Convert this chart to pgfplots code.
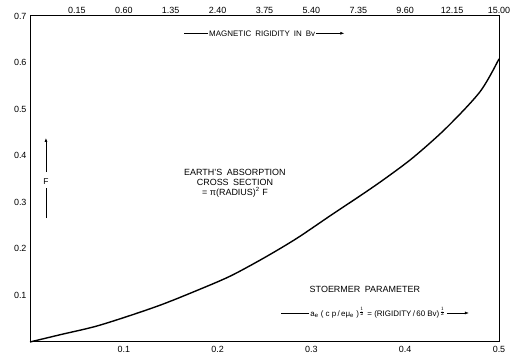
\documentclass[border=0pt]{standalone}
\usepackage{pgfplots}
\pgfplotsset{compat=1.18}
\usepackage{fontspec}
\setmainfont{Liberation Sans}
\usetikzlibrary{arrows.meta}
\begin{document}
\begin{tikzpicture}
\begin{axis}[
  scale only axis, width=469bp, height=326bp,
  xmin=0, xmax=0.5, ymin=0, ymax=0.7,
  major tick length=0pt,
  tick label style={font=\fontsize{9}{10}\selectfont},
  /pgf/number format/assume math mode=true,
  axis line style={line width=1pt, black},
  xtick={0.1,0.2,0.3,0.4,0.5},
  xticklabels={0.1,0.2,0.3,0.4,0.5},
  ytick={0.1,0.2,0.3,0.4,0.5,0.6,0.7},
  yticklabels={0.1,0.2,0.3,0.4,0.5,0.6,0.7},
  xticklabel style={yshift=-1pt},
  clip=false,
]
\addplot[line width=1.4pt, smooth, tension=0.5, black] coordinates {
 (0,0) (0.033,0.016) (0.069,0.033) (0.104,0.055) (0.14,0.08) (0.176,0.109)
 (0.213,0.141) (0.249,0.18) (0.284,0.222) (0.32,0.271) (0.355,0.318)
 (0.38,0.353) (0.409,0.397) (0.444,0.46) (0.48,0.538) (0.5,0.608)
};
% top scale: magnetic rigidity labels
\foreach \s/\r in {0.05/0.15,0.1/0.60,0.15/1.35,0.2/2.40,0.25/3.75,0.3/5.40,0.35/7.35,0.4/9.60,0.45/12.15,0.5/15.00}{
  \edef\temp{\noexpand\node[font=\noexpand\fontsize{9}{10}\noexpand\selectfont, anchor=south, inner sep=2pt] at (axis cs:\s,0.7) {\r};}
  \temp
}
% bounding room like the reference
\path (rel axis cs:0,0) ++(-30bp,-16bp);
\path (rel axis cs:1,1) ++(22bp,16bp);
% top label
\node[font=\fontsize{8}{9}\selectfont, inner sep=1pt] (mr) at (rel axis cs:0.495,0.947) {MAGNETIC\enspace RIGIDITY\enspace IN\enspace Bv};
\draw[line width=0.5pt] (mr.west) -- ++(-24bp,0);
\draw[line width=0.5pt,-{Latex[length=4pt,width=3pt]}] (mr.east) -- ++(28bp,0);
% F arrow
\node[font=\fontsize{8.5}{9}\selectfont] at (rel axis cs:0.034,0.491) {F};
\draw[line width=0.7pt] (rel axis cs:0.034,0.380) -- (rel axis cs:0.034,0.472);
\draw[line width=0.7pt,-{Latex[length=4pt,width=3pt]}] (rel axis cs:0.034,0.521) -- (rel axis cs:0.034,0.626);
% central text
\node[font=\fontsize{9}{10}\selectfont, align=center, inner sep=0pt] at (rel axis cs:0.437,0.488)
  {EARTH'S\enspace ABSORPTION\\[0pt] CROSS\enspace SECTION\\[0pt] = π(RADIUS)\textsuperscript{2} F};
% Stoermer
\node[font=\fontsize{9}{10}\selectfont] at (rel axis cs:0.714,0.16) {STOERMER\enspace PARAMETER};
\node[font=\fontsize{8}{9}\selectfont, inner sep=1pt] (st) at (rel axis cs:0.742,0.089)
  {a\textsubscript{e} ( c p\,/\,eμ\textsubscript{e} )$^{\frac{1}{2}}$ = (RIGIDITY\,/\,60 Bv)$^{\frac{1}{2}}$};
\draw[line width=0.5pt] (st.west) -- ++(-28bp,0);
\draw[line width=0.5pt,-{Latex[length=4pt,width=3pt]}] (st.east) -- ++(22bp,0);
\end{axis}
\end{tikzpicture}
\end{document}
